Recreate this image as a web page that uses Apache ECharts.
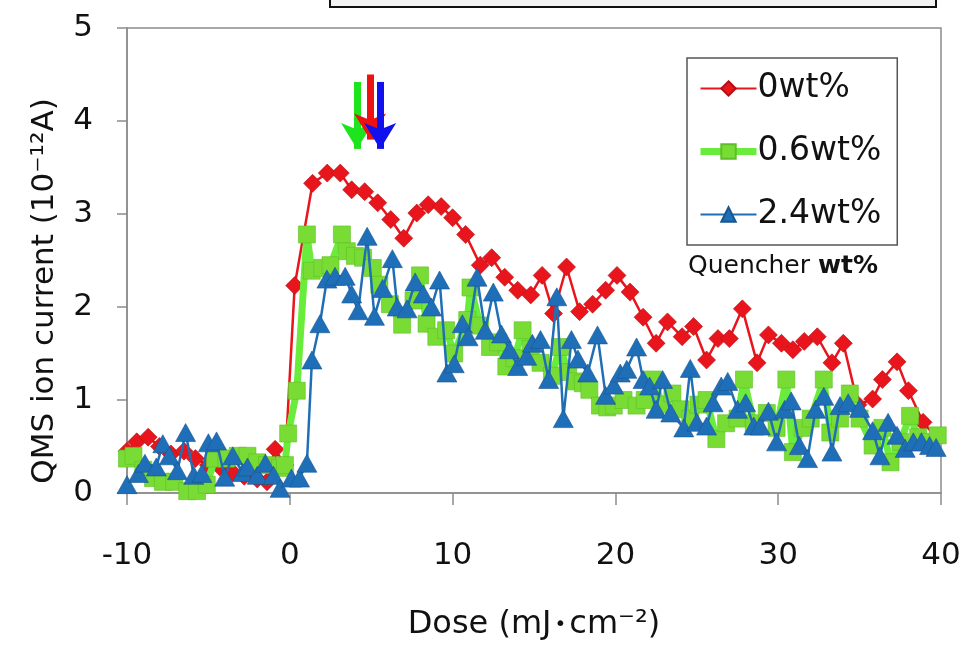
<!DOCTYPE html>
<html>
<head>
<meta charset="utf-8">
<script src="https://cdn.jsdelivr.net/npm/echarts@6/dist/echarts.min.js"></script>
<style>
  html, body { margin: 0; padding: 0; background: #fff; }
  #chart { width: 967px; height: 646px; }
</style>
</head>
<body>
<div id="chart"></div>
<script>
// 0wt% (red diamonds)
const doseRed = [-10.0, -9.4, -8.7, -8.0, -7.3, -6.5, -5.8, -5.0, -4.3, -3.5, -2.8, -2.0, -1.4, -0.9, -0.3, 0.3,
  1.4, 2.3, 3.1, 3.8, 4.6, 5.4, 6.2, 7.0, 7.8, 8.5, 9.3, 10.0, 10.8, 11.7, 12.4, 13.2, 14.0, 14.8, 15.5, 16.2,
  17.0, 17.8, 18.6, 19.4, 20.1, 20.9, 21.7, 22.5, 23.2, 24.1, 24.8, 25.6, 26.3, 27.0, 27.8, 28.7, 29.4, 30.2,
  30.9, 31.6, 32.4, 33.3, 34.0, 34.9, 35.8, 36.4, 37.3, 38.0, 38.9, 39.7];
const currentRed = [0.45, 0.55, 0.60, 0.50, 0.42, 0.45, 0.37, 0.30, 0.28, 0.22, 0.18, 0.15, 0.12, 0.47, 0.30, 2.23,
  3.33, 3.44, 3.44, 3.26, 3.24, 3.12, 2.94, 2.74, 3.01, 3.10, 3.08, 2.96, 2.78, 2.45, 2.53, 2.32, 2.18, 2.13, 2.34, 1.93,
  2.43, 1.95, 2.03, 2.18, 2.34, 2.16, 1.89, 1.61, 1.84, 1.68, 1.79, 1.43, 1.66, 1.66, 1.98, 1.40, 1.70, 1.61,
  1.54, 1.63, 1.68, 1.40, 1.61, 0.95, 1.01, 1.22, 1.41, 1.10, 0.76, 0.60];

// 0.6wt% (green squares)
const doseGreen = [-10.0, -9.6, -9.0, -8.4, -7.8, -7.1, -6.3, -5.7, -5.1, -4.6, -3.9, -3.2, -2.6, -2.0, -1.4, -0.6, -0.3,
  -0.1, 0.43, 1.05, 1.35, 2.0, 2.5, 3.2, 3.5, 4.0, 4.5, 5.1, 5.5, 6.15, 6.9, 7.6, 8.0, 8.4, 9.0, 9.6, 10.1, 10.9, 11.1,
  11.7, 12.3, 12.8, 13.3, 13.8, 14.3, 14.8, 15.4, 16.1, 16.6, 17.1, 17.6, 18.0, 18.4, 19.05, 19.5, 19.9, 20.5, 21.3,
  21.8, 22.3, 22.9, 23.5, 24.0, 24.6, 25.1, 25.6, 26.2, 26.8, 27.5, 27.9, 28.5, 29.3, 29.9, 30.5, 30.9, 31.5, 32.0,
  32.8, 33.2, 33.8, 34.4, 35.0, 35.8, 36.4, 36.9, 37.5, 38.1, 38.6, 39.2, 39.8];
const currentGreen = [0.37, 0.40, 0.25, 0.16, 0.12, 0.12, 0.02, 0.02, 0.09, 0.37, 0.37, 0.40, 0.40, 0.33, 0.30, 0.27, 0.30,
  0.64, 1.10, 2.78, 2.39, 2.42, 2.45, 2.78, 2.60, 2.55, 2.53, 2.42, 2.24, 2.03, 1.81, 2.07, 2.34, 1.82, 1.68, 1.75, 1.50, 1.86, 2.21,
  1.80, 1.57, 1.62, 1.36, 1.45, 1.75, 1.55, 1.40, 1.26, 1.57, 1.30, 1.20, 1.18, 1.11, 0.94, 0.92, 0.94, 1.00, 0.94,
  1.00, 1.22, 0.95, 1.07, 0.90, 0.80, 0.95, 1.00, 0.58, 0.75, 0.80, 1.22, 0.75, 0.86, 0.70, 1.22, 0.44, 0.70, 0.80,
  1.22, 0.65, 0.80, 1.07, 0.80, 0.51, 0.70, 0.33, 0.55, 0.83, 0.60, 0.55, 0.62];

// 2.4wt% (blue triangles)
const doseBlue = [-10.0, -9.3, -8.9, -8.2, -7.8, -7.4, -6.9, -6.4, -5.9, -5.4, -5.0, -4.5, -4.0, -3.5, -2.9, -2.6, -2.0,
  -1.5, -1.0, -0.6, 0.1, 0.6, 1.05, 1.36, 1.85, 2.28, 2.78, 3.4, 3.8, 4.2, 4.75, 5.2, 5.7, 6.3, 6.6, 7.2, 7.7, 8.2, 8.7,
  9.2, 9.65, 10.1, 10.6, 10.95, 11.5, 12.0, 12.5, 13.0, 13.5, 14.0, 14.55, 14.9, 15.4, 15.9, 16.4, 16.8, 17.3, 17.7,
  18.3, 18.9, 19.4, 19.9, 20.3, 20.7, 21.3, 21.7, 22.1, 22.5, 22.9, 23.4, 24.2, 24.6, 25.0, 25.6, 26.0, 26.5, 26.9,
  27.5, 28.0, 28.5, 28.9, 29.4, 29.9, 30.4, 30.8, 31.3, 31.8, 32.3, 32.8, 33.3, 33.8, 34.3, 35.0, 35.8, 36.25, 36.75,
  37.3, 37.8, 38.3, 38.8, 39.3, 39.7];
const currentBlue = [0.09, 0.21, 0.32, 0.28, 0.53, 0.40, 0.24, 0.65, 0.19, 0.21, 0.54, 0.56, 0.17, 0.40, 0.22, 0.28, 0.19,
  0.32, 0.19, 0.05, 0.16, 0.16, 0.32, 1.43, 1.82, 2.30, 2.33, 2.33, 2.14, 1.96, 2.76, 1.90, 2.20, 2.52, 2.00, 1.98, 2.27, 2.14, 2.00,
  2.29, 1.29, 1.39, 1.82, 1.68, 2.32, 1.75, 2.16, 1.71, 1.54, 1.36, 1.47, 1.61, 1.65, 1.22, 2.11, 0.80, 1.65, 1.44,
  1.29, 1.70, 1.05, 1.16, 1.29, 1.33, 1.57, 1.22, 1.15, 0.90, 1.22, 0.86, 0.70, 1.34, 0.76, 0.72, 0.97, 1.15, 1.20,
  0.90, 0.97, 0.72, 0.72, 0.88, 0.55, 0.90, 0.99, 0.51, 0.37, 0.90, 1.04, 0.44, 0.94, 0.97, 0.91, 0.67, 0.40, 0.76,
  0.62, 0.48, 0.55, 0.55, 0.51, 0.49];

// arrows: [dose, top, tip]
const arrowGreen = [4.13, 4.42, 3.70];
const arrowRed = [4.93, 4.50, 3.80];
const arrowBlue = [5.55, 4.42, 3.70];

const xTicks = { min: -10, max: 40, interval: 10 };
const yTicks = { min: 0, max: 5, interval: 1 };

const pairs = (xs, ys) => xs.map((x, i) => [x, ys[i]]);

const arrowSeries = (name, a, color) => ({
  name: name,
  type: 'line',
  data: [],
  silent: true,
  z: 5,
  markLine: {
    silent: true,
    animation: false,
    symbol: ['none', 'arrow'],
    symbolSize: [24, 26],
    label: { show: false },
    lineStyle: { color: color, width: 7, type: 'solid', opacity: 1 },
    data: [[{ coord: [a[0], a[1]] }, { coord: [a[0], a[2]] }]]
  }
});

const font = 'DejaVu Sans';

let myChart = echarts.init(document.getElementById('chart'));
myChart.setOption({
  animation: false,
  backgroundColor: '#fff',
  textStyle: { fontFamily: font },
  grid: {
    left: 127, right: 26, top: 28, bottom: 148,
    show: true, borderColor: '#8c8c8c', borderWidth: 1.5
  },
  legend: {
    data: [
      { name: '0wt%' },
      { name: '0.6wt%', lineStyle: { width: 7 } },
      { name: '2.4wt%' }
    ],
    orient: 'vertical',
    left: 687, top: 58,
    itemWidth: 56, itemHeight: 18, itemGap: 30,
    padding: [14, 16, 14, 10],
    borderColor: '#555', borderWidth: 1.5,
    textStyle: { fontSize: 33, color: '#111', fontFamily: font, padding: [0, 0, 0, -4] }
  },
  xAxis: {
    type: 'value',
    min: xTicks.min, max: xTicks.max, interval: xTicks.interval,
    name: '{a|Dose (mJ}{d|•}{a|cm⁻²)}',
    nameLocation: 'middle', nameGap: 116,
    nameTextStyle: {
      fontSize: 32, color: '#111', fontFamily: font,
      rich: {
        a: { fontSize: 32, color: '#111', fontFamily: font },
        d: { fontSize: 20, color: '#111', fontFamily: font, padding: [0, 3, 0, 3] }
      }
    },
    axisLine: { onZero: false, lineStyle: { color: '#8c8c8c', width: 1.5 } },
    axisTick: { show: true, length: 12, lineStyle: { color: '#8c8c8c', width: 1.5 } },
    axisLabel: { fontSize: 31, color: '#111', margin: 47 },
    splitLine: { show: false }
  },
  yAxis: {
    type: 'value',
    min: yTicks.min, max: yTicks.max, interval: yTicks.interval,
    axisLine: { onZero: false, lineStyle: { color: '#8c8c8c', width: 1.5 } },
    axisTick: { show: true, length: 10, lineStyle: { color: '#8c8c8c', width: 1.5 } },
    axisLabel: { fontSize: 31, color: '#111', margin: 34, padding: [6, 0, 0, 0] },
    splitLine: { show: false }
  },
  graphic: [
    {
      type: 'rect',
      shape: { x: 330, y: -10, width: 606, height: 17 },
      style: { fill: '#f3f3f3', stroke: '#111', lineWidth: 2 }
    },
    {
      // y axis title
      type: 'text',
      x: 45, y: 291,
      rotation: Math.PI / 2,
      style: {
        text: 'QMS ion current (10⁻¹²A)',
        fontSize: 31, fontFamily: font, fill: '#111',
        align: 'center', verticalAlign: 'middle'
      }
    },
    {
      type: 'text',
      left: 688, top: 254,
      style: {
        text: '{a|Quencher }{b|wt%}',
        rich: {
          a: { fontSize: 25, fontFamily: font, fill: '#111' },
          b: { fontSize: 25, fontFamily: font, fontWeight: 'bold', fill: '#111' }
        }
      }
    }
  ],
  series: [
    {
      name: '0wt%',
      type: 'line',
      data: pairs(doseRed, currentRed),
      symbol: 'diamond', symbolSize: 18,
      lineStyle: { color: '#e8161c', width: 2.5 },
      itemStyle: { color: '#e8161c', borderColor: '#b50d12', borderWidth: 0.6 },
      z: 2
    },
    {
      name: '0.6wt%',
      type: 'line',
      data: pairs(doseGreen, currentGreen),
      symbol: 'rect', symbolSize: 17,
      lineStyle: { color: '#6aec3c', width: 7 },
      itemStyle: { color: '#79dc35', borderColor: '#5cbf25', borderWidth: 0.6 },
      z: 3
    },
    {
      name: '2.4wt%',
      type: 'line',
      data: pairs(doseBlue, currentBlue),
      symbol: 'triangle', symbolSize: [20, 18],
      lineStyle: { color: '#1f6fb6', width: 2.5 },
      itemStyle: { color: '#1f6fb8', borderColor: '#17568f', borderWidth: 0.6 },
      z: 4
    },
    arrowSeries('arrowGreen', arrowGreen, '#1ee41e'),
    arrowSeries('arrowRed', arrowRed, '#ee1111'),
    arrowSeries('arrowBlue', arrowBlue, '#1111ee')
  ]
});
</script>
</body>
</html>
